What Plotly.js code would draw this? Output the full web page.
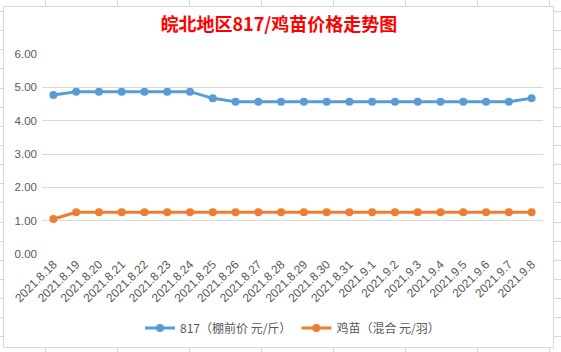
<!DOCTYPE html>
<html>
<head>
<meta charset="utf-8">
<script src="https://cdn.plot.ly/plotly-3.0.1.min.js"></script>
<style>
  html, body { margin:0; padding:0; }
  body {
    width:561px; height:352px; overflow:hidden; position:relative;
    background-color:#ffffff;
    background-image:
      repeating-linear-gradient(to right, transparent 0px, transparent 45px, #d4d7dc 45px, #d4d7dc 46px, transparent 46px, transparent 72px),
      repeating-linear-gradient(to bottom, transparent 0px, transparent 11px, #d4d7dc 11px, #d4d7dc 12px, transparent 12px, transparent 19.14px);
  }
  #frame {
    position:absolute; left:3px; top:6px; width:549px; height:340px;
    background:#ffffff; border:1px solid #d9d9d9;
  }
  #chart { position:absolute; left:0; top:0; width:561px; height:352px; }
</style>
</head>
<body>
<div id="frame"></div>
<div id="chart"></div>
<script>
const dates = ["2021.8.18","2021.8.19","2021.8.20","2021.8.21","2021.8.22","2021.8.23","2021.8.24","2021.8.25","2021.8.26","2021.8.27","2021.8.28","2021.8.29","2021.8.30","2021.8.31","2021.9.1","2021.9.2","2021.9.3","2021.9.4","2021.9.5","2021.9.6","2021.9.7","2021.9.8"];
const price817 = [4.77,4.87,4.87,4.87,4.87,4.87,4.87,4.67,4.57,4.57,4.57,4.57,4.57,4.57,4.57,4.57,4.57,4.57,4.57,4.57,4.57,4.67];
const chickPrice = [1.05,1.25,1.25,1.25,1.25,1.25,1.25,1.25,1.25,1.25,1.25,1.25,1.25,1.25,1.25,1.25,1.25,1.25,1.25,1.25,1.25,1.25];
const seriesNames = ["817（棚前价 元/斤）","鸡苗（混合 元/羽）"];
const yTicks = [0,1,2,3,4,5,6];

const baseFont = "'Liberation Sans', 'Noto Sans CJK SC', sans-serif";

const traces = [
  {x: dates, y: price817, name: seriesNames[0], type:'scatter', mode:'lines+markers',
   line:{color:'#5B9BD5', width:3}, marker:{color:'#5B9BD5', size:8}},
  {x: dates, y: chickPrice, name: seriesNames[1], type:'scatter', mode:'lines+markers',
   line:{color:'#ED7D31', width:3}, marker:{color:'#ED7D31', size:8}}
];

const layout = {
  width:561, height:352,
  margin:{l:42, r:18, t:54, b:98, autoexpand:false},
  paper_bgcolor:'rgba(0,0,0,0)', plot_bgcolor:'rgba(0,0,0,0)',
  showlegend:true,
  title:{text:'皖北地区817/鸡苗价格走势图', x:0.497, xanchor:'center', y:0.93, yanchor:'middle',
         font:{family:"'Noto Sans CJK SC', sans-serif", size:18, color:'#ff0000', weight:'bold'}},
  xaxis:{type:'category', range:[-0.5,21.5], showgrid:false, zeroline:false, showline:false,
         ticks:'', tickangle:-45, tickfont:{family:baseFont, size:12, color:'#595959'}},
  yaxis:{range:[0,6], tickvals:yTicks, ticktext:yTicks.map(v=>v.toFixed(2)), showgrid:true,
         gridcolor:'#d9d9d9', gridwidth:1, zeroline:false, showline:false, ticks:'',
         ticklabelstandoff:4,
         tickfont:{family:baseFont, size:11.5, color:'#595959'}},
  legend:{orientation:'h', x:0.5, xanchor:'center', y:-0.37, yanchor:'middle',
          font:{family:"'Noto Sans CJK SC', 'Liberation Sans', sans-serif", size:12, color:'#595959'},
          bgcolor:'rgba(0,0,0,0)'}
};

Plotly.newPlot('chart', traces, layout, {displayModeBar:false, staticPlot:true});
</script>
</body>
</html>
